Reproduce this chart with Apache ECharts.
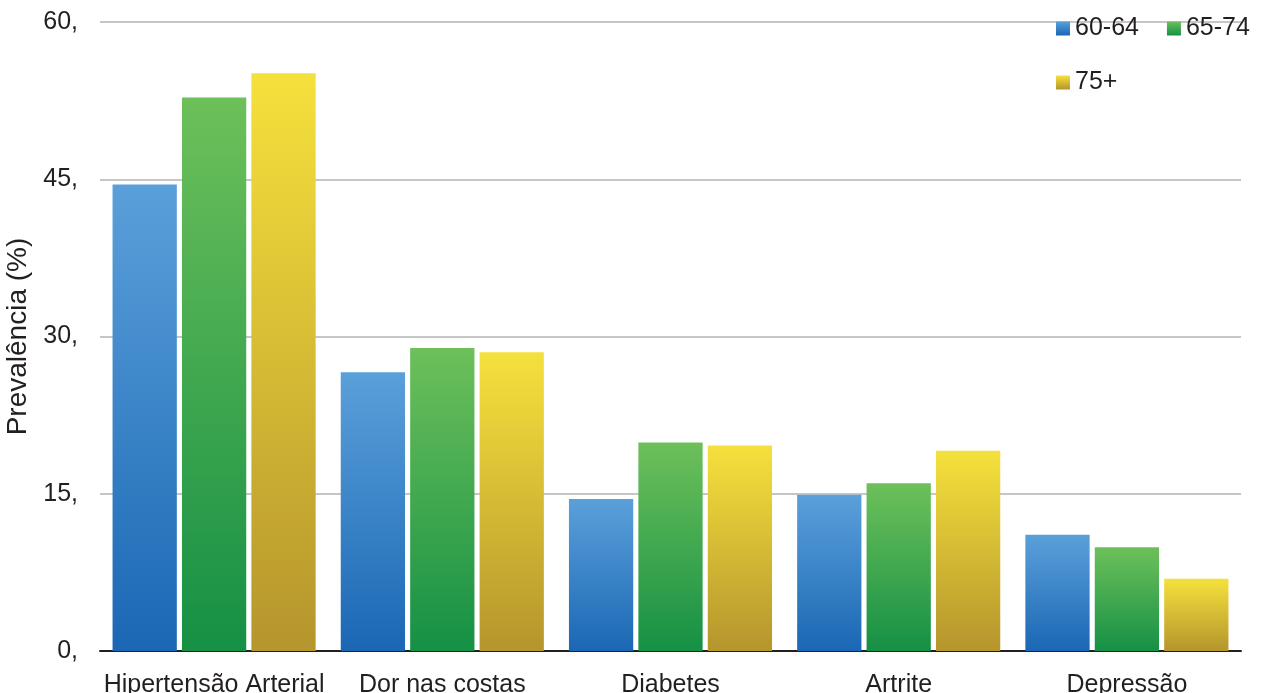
<!DOCTYPE html>
<html>
<head>
<meta charset="utf-8">
<script src="https://cdn.jsdelivr.net/npm/echarts@6/dist/echarts.min.js"></script>
<style>
  html, body { margin: 0; padding: 0; background: #fff; }
  #chart { width: 1263px; height: 693px; }
</style>
</head>
<body>
<div id="chart"></div>
<script>
const categories = ["Hipertensão Arterial", "Dor nas costas", "Diabetes", "Artrite", "Depressão"]
const age6064 = [44.5, 26.6, 14.5, 14.9, 11.1]
const age6574 = [52.8, 28.9, 19.9, 16.0, 9.9]
const age75 = [55.1, 28.5, 19.6, 19.1, 6.9]
const yTicks = [0, 15, 30, 45, 60]

const font = "'Liberation Sans', Arial, sans-serif"
const textColor = "#231f20"

function grad(top, bottom) {
  return new echarts.graphic.LinearGradient(0, 0, 0, 1, [
    { offset: 0, color: top },
    { offset: 1, color: bottom },
  ])
}

const chart = echarts.init(document.getElementById("chart"), null, { renderer: "canvas" })

const barSeries = (name, data, top, bottom) => ({
  name,
  type: "bar",
  data,
  barGap: "8%",
  barCategoryGap: "11%",
  itemStyle: { color: grad(top, bottom) },
  emphasis: { disabled: true },
})

const legendText = { fontSize: 25, color: textColor, fontFamily: font, padding: [0, 0, 0, 0] }

chart.setOption({
  animation: false,
  textStyle: { fontFamily: font },
  grid: { left: 100, right: 22, top: 22, bottom: 42, containLabel: false, outerBoundsMode: "none" },
  legend: [
    {
      data: ["60-64", "65-74"],
      left: 1051,
      top: 11,
      itemWidth: 14,
      itemHeight: 14,
      itemGap: 28,
      icon: "rect",
      textStyle: legendText,
    },
    {
      data: ["75+"],
      left: 1051,
      top: 65,
      itemWidth: 14,
      itemHeight: 14,
      icon: "rect",
      textStyle: legendText,
    },
  ],
  xAxis: {
    type: "category",
    data: categories,
    axisTick: { show: false },
    axisLine: { lineStyle: { color: textColor, width: 2 } },
    axisLabel: { fontSize: 25, color: textColor, margin: 22, interval: 0 },
  },
  yAxis: {
    type: "value",
    min: yTicks[0],
    max: yTicks[yTicks.length - 1],
    interval: 15,
    name: "Prevalência (%)",
    nameLocation: "middle",
    nameGap: 60,
    nameTextStyle: { fontSize: 28, color: textColor, fontFamily: font },
    axisLine: { show: false },
    axisTick: { show: false },
    axisLabel: { fontSize: 25, color: textColor, margin: 22, formatter: "{value}," },
    splitLine: { lineStyle: { color: "#c6c6c6", width: 2 } },
  },
  series: [
    barSeries("60-64", age6064, "#5aa0da", "#1b67b4"),
    barSeries("65-74", age6574, "#6dc05a", "#159045"),
    barSeries("75+", age75, "#f5e13c", "#b5952d"),
  ],
})
</script>
</body>
</html>
